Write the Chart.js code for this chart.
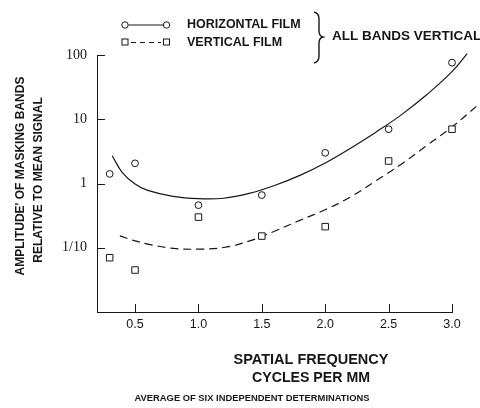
<html>
<head>
  <script src="https://cdn.jsdelivr.net/npm/chart.js@4.4.0/dist/chart.umd.min.js"></script>
</head>

<body style="padding: 0; margin: 0; background: #fff;">

<canvas id="chart" width="480" height="408"></canvas>

<script>
  // measured points (cycles per mm vs amplitude)
  const freq = [0.3, 0.5, 1.0, 1.5, 2.0, 2.5, 3.0]
  const horizontalFilm = [1.41, 2.06, 0.46, 0.66, 3.0, 7.0, 76]
  const verticalFilm = [0.070, 0.045, 0.30, 0.152, 0.213, 2.24, 7.0]

  // hand drawn fitted curves
  const horizontalFitX = [0.32, 0.4, 0.5, 0.6, 0.8, 1.0, 1.2, 1.4, 1.6, 1.8, 2.0, 2.2, 2.4, 2.6, 2.8, 3.0, 3.12]
  const horizontalFitY = [2.7, 1.48, 0.98, 0.78, 0.63, 0.58, 0.59, 0.70, 0.93, 1.34, 2.09, 3.55, 6.3, 11.7, 24, 55, 105]
  const verticalFitX = [0.38, 0.5, 0.6, 0.8, 1.0, 1.2, 1.4, 1.6, 1.8, 2.0, 2.2, 2.4, 2.6, 2.8, 3.0, 3.22]
  const verticalFitY = [0.153, 0.128, 0.114, 0.098, 0.095, 0.101, 0.127, 0.181, 0.267, 0.39, 0.62, 1.1, 2.0, 3.9, 7.6, 17.7]

  const xTicks = [0.5, 1.0, 1.5, 2.0, 2.5, 3.0]
  const yTicks = [0.1, 1, 10, 100]
  const yTickLabels = ['1/10', '1', '10', '100']

  const ink = '#161616'
  const bold = size => `bold ${size}px "Liberation Sans", Arial, sans-serif`
  const pairs = (xs, ys) => xs.map((x, i) => ({x: x, y: ys[i]}))

  const line = (ctx, x1, y1, x2, y2) => {
    ctx.beginPath()
    ctx.moveTo(x1, y1)
    ctx.lineTo(x2, y2)
    ctx.stroke()
  }

  const paperText = {
    id: 'paperText',
    afterDraw(chart) {
      const ctx = chart.ctx
      const area = chart.chartArea
      const {x, y} = chart.scales
      ctx.save()
      ctx.strokeStyle = ink
      ctx.fillStyle = ink
      ctx.lineWidth = 1

      // inward tick marks
      x.ticks.forEach(t => {
        const px = Math.round(x.getPixelForValue(t.value)) + 0.5
        line(ctx, px, area.bottom, px, area.bottom - 8)
      })
      y.ticks.forEach(t => {
        const py = Math.round(y.getPixelForValue(t.value)) + 0.5
        line(ctx, area.left, py, area.left + 8, py)
      })

      // legend
      ctx.beginPath()
      ctx.arc(125, 25, 3.2, 0, Math.PI * 2)
      ctx.moveTo(170, 25)
      ctx.arc(166.5, 25, 3.2, 0, Math.PI * 2)
      ctx.stroke()
      line(ctx, 128.5, 25, 163, 25)
      ctx.strokeRect(122, 39, 6, 6)
      ctx.strokeRect(163.5, 39, 6, 6)
      ctx.setLineDash([5, 4])
      line(ctx, 131, 42.5, 161, 42.5)
      ctx.setLineDash([])

      ctx.textBaseline = 'middle'
      ctx.textAlign = 'left'
      ctx.font = bold(12.5)
      ctx.fillText('HORIZONTAL FILM', 187, 25, 117)
      ctx.fillText('VERTICAL FILM', 187, 42.5, 101)
      ctx.font = bold(13.5)
      ctx.fillText('ALL BANDS VERTICAL', 332, 36)

      // brace
      ctx.lineWidth = 1.4
      ctx.beginPath()
      ctx.moveTo(314, 12)
      ctx.quadraticCurveTo(319, 13, 319, 19)
      ctx.lineTo(319, 31)
      ctx.quadraticCurveTo(319, 36, 323, 37)
      ctx.quadraticCurveTo(319, 38, 319, 43)
      ctx.lineTo(319, 56)
      ctx.quadraticCurveTo(319, 62, 314, 63)
      ctx.stroke()

      // axis titles
      ctx.textAlign = 'center'
      ctx.font = bold(14.5)
      ctx.fillText('SPATIAL FREQUENCY', 311, 360, 158)
      ctx.fillText('CYCLES PER MM', 311, 378, 118)
      ctx.font = bold(9.5)
      ctx.fillText('AVERAGE OF SIX INDEPENDENT DETERMINATIONS', 252, 398, 235)

      ctx.translate(21, 176)
      ctx.rotate(-Math.PI / 2)
      ctx.font = bold(12)
      ctx.fillText("AMPLITUDE' OF MASKING BANDS", 0, 0, 206)
      ctx.fillText('RELATIVE TO MEAN SIGNAL', -4, 18, 168)
      ctx.restore()
    }
  }

  new Chart(document.getElementById('chart').getContext('2d'), {
    type: 'scatter',
    data: {
      datasets: [
        {
          label: 'Horizontal film',
          data: pairs(freq, horizontalFilm),
          pointStyle: 'circle',
          pointRadius: 3.4,
          backgroundColor: '#fff',
          borderColor: ink,
          borderWidth: 1,
          clip: false,
        },
        {
          label: 'Vertical film',
          data: pairs(freq, verticalFilm),
          pointStyle: 'rect',
          pointRadius: 4.6,
          backgroundColor: '#fff',
          borderColor: ink,
          borderWidth: 1,
          clip: false,
        },
        {
          label: 'Horizontal fit',
          data: pairs(horizontalFitX, horizontalFitY),
          showLine: true,
          pointRadius: 0,
          borderColor: ink,
          borderWidth: 1.2,
          tension: 0.4,
          clip: false,
        },
        {
          label: 'Vertical fit',
          data: pairs(verticalFitX, verticalFitY),
          showLine: true,
          pointRadius: 0,
          borderColor: ink,
          borderWidth: 1.2,
          borderDash: [8, 5],
          tension: 0.4,
          clip: false,
        },
      ]
    },
    options: {
      responsive: false,
      animation: false,
      devicePixelRatio: 1,
      layout: {padding: {top: 55, right: 28, left: 0, bottom: 0}},
      plugins: {legend: {display: false}, tooltip: {enabled: false}},
      scales: {
        x: {
          type: 'linear',
          bounds: 'data',
          // range set here (not via min/max) so the fitted curves may run past 3.0
          afterDataLimits: s => { s.min = 0.2; s.max = 3.0 },
          afterBuildTicks: s => { s.ticks = xTicks.map(v => ({value: v})) },
          afterFit: s => { s.height = 96 },
          grid: {display: false, drawTicks: false},
          border: {display: true, color: ink, width: 1},
          ticks: {
            callback: v => v.toFixed(1),
            font: {family: '"Liberation Sans", Arial, sans-serif', size: 12.5},
            color: ink,
            padding: 5,
            maxRotation: 0,
            autoSkip: false,
          },
        },
        y: {
          type: 'logarithmic',
          min: 0.01,
          max: 100,
          afterBuildTicks: s => { s.ticks = yTicks.map(v => ({value: v})) },
          afterFit: s => { s.width = 97 },
          grid: {display: false, drawTicks: false},
          border: {display: true, color: ink, width: 1},
          ticks: {
            callback: v => yTickLabels[yTicks.indexOf(v)],
            font: {family: '"Liberation Serif", "Times New Roman", serif', size: 14},
            color: ink,
            padding: 10,
            autoSkip: false,
          },
        },
      }
    },
    plugins: [paperText]
  })
</script>
</body>
</html>
